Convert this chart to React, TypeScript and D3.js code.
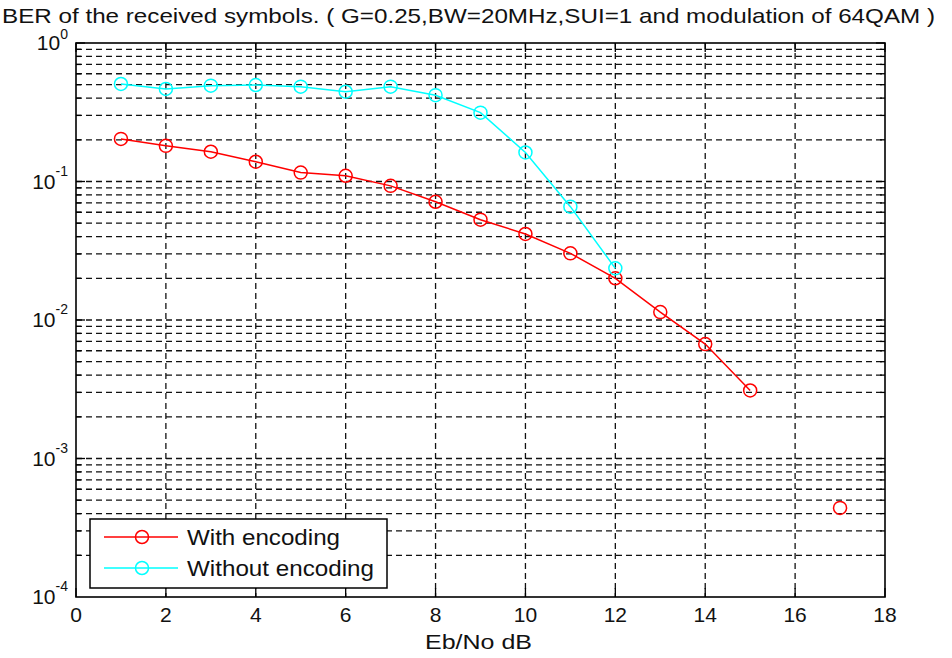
import { useEffect, useRef } from "react";
import * as d3 from "d3";

// Eb/No values (dB)
const ebnoWith = [1, 2, 3, 4, 5, 6, 7, 8, 9, 10, 11, 12, 13, 14, 15, 16, 17];
const berWith = [0.203, 0.181, 0.164, 0.139, 0.116, 0.11, 0.093, 0.0714, 0.053, 0.0418, 0.0303, 0.02, 0.0114, 0.0067, 0.0031, null, 0.00044];

const ebnoWithout = [1, 2, 3, 4, 5, 6, 7, 8, 9, 10, 11, 12];
const berWithout = [0.506, 0.466, 0.492, 0.497, 0.484, 0.445, 0.484, 0.42, 0.314, 0.162, 0.0658, 0.0236];

const xTicks = [0, 2, 4, 6, 8, 10, 12, 14, 16, 18];
const yExponents = [0, -1, -2, -3, -4];

const titleText = "BER of the received symbols. ( G=0.25,BW=20MHz,SUI=1 and modulation of 64QAM )";
const xLabel = "Eb/No dB";
const legendLabels = ["With encoding", "Without encoding"];

export default function App() {
    const svgRef = useRef<SVGSVGElement>(null);
    const width = 952;
    const height = 658;

    useEffect(() => {
        const svg = d3.select(svgRef.current);
        svg.selectAll("*").remove();

        const margin = { top: 43, right: 67, bottom: 61, left: 76 };
        const x = d3.scaleLinear().domain([0, 18]).range([margin.left, width - margin.right]);
        const y = d3.scaleLog().domain([1e-4, 1]).range([height - margin.bottom, margin.top]);
        const font = "'Liberation Sans', Arial, sans-serif";

        svg.append("rect").attr("width", width).attr("height", height).attr("fill", "white");

        const x0 = x(0), x1 = x(18), y0 = y(1e-4), y1 = y(1);

        // grid lines
        const grid = svg.append("g")
            .attr("stroke", "#111")
            .attr("stroke-width", 1.3)
            .attr("stroke-dasharray", "6,4");

        const yMinor: number[] = [];
        for (let e = -4; e < 0; e++) {
            for (let m = 1; m <= 9; m++) {
                const v = m * Math.pow(10, e);
                if (v > 1e-4) yMinor.push(v);
            }
        }
        grid.selectAll("line.h")
            .data(yMinor)
            .enter()
            .append("line")
            .attr("x1", x0).attr("x2", x1)
            .attr("y1", (d) => y(d)).attr("y2", (d) => y(d));

        grid.selectAll("line.v")
            .data(xTicks.slice(1, -1))
            .enter()
            .append("line")
            .attr("x1", (d) => x(d)).attr("x2", (d) => x(d))
            .attr("y1", y1).attr("y2", y0);

        // ticks
        const ticks = svg.append("g").attr("stroke", "#000").attr("stroke-width", 1.3);
        xTicks.forEach((t) => {
            ticks.append("line").attr("x1", x(t)).attr("x2", x(t)).attr("y1", y0).attr("y2", y0 - 9);
            ticks.append("line").attr("x1", x(t)).attr("x2", x(t)).attr("y1", y1).attr("y2", y1 + 9);
        });
        yMinor.concat([1]).forEach((v) => {
            const major = Math.abs(Math.log10(v) - Math.round(Math.log10(v))) < 1e-9;
            const len = major ? 9 : 5;
            ticks.append("line").attr("x1", x0).attr("x2", x0 + len).attr("y1", y(v)).attr("y2", y(v));
            ticks.append("line").attr("x1", x1).attr("x2", x1 - len).attr("y1", y(v)).attr("y2", y(v));
        });

        // frame
        svg.append("rect")
            .attr("x", x0).attr("y", y1)
            .attr("width", x1 - x0).attr("height", y0 - y1)
            .attr("fill", "none").attr("stroke", "#000").attr("stroke-width", 1.6);

        // series
        const series = [
            { xs: ebnoWith, ys: berWith, color: "#ff0000" },
            { xs: ebnoWithout, ys: berWithout, color: "#00ffff" },
        ];
        series.forEach((s) => {
            const pts = s.xs.map((v, i) => ({ x: v, y: s.ys[i] }));
            const line = d3.line<{ x: number; y: number | null }>()
                .defined((d) => d.y != null)
                .x((d) => x(d.x))
                .y((d) => y(d.y as number));
            svg.append("path")
                .datum(pts)
                .attr("d", line)
                .attr("fill", "none")
                .attr("stroke", s.color)
                .attr("stroke-width", 1.5);
            svg.append("g")
                .selectAll("circle")
                .data(pts.filter((d) => d.y != null))
                .enter()
                .append("circle")
                .attr("cx", (d) => x(d.x))
                .attr("cy", (d) => y(d.y as number))
                .attr("r", 6.5)
                .attr("fill", "none")
                .attr("stroke", s.color)
                .attr("stroke-width", 1.5);
        });

        // x tick labels
        svg.append("g")
            .selectAll("text")
            .data(xTicks)
            .enter()
            .append("text")
            .attr("x", (d) => x(d))
            .attr("y", y0 + 25)
            .attr("text-anchor", "middle")
            .style("font-family", font)
            .style("font-size", "21px")
            .attr("fill", "#111")
            .text((d) => d);

        // y tick labels 10^e
        yExponents.forEach((e) => {
            const t = svg.append("text")
                .attr("x", 68)
                .attr("y", y(Math.pow(10, e)) + 7)
                .attr("text-anchor", "end")
                .style("font-family", font)
                .attr("fill", "#111");
            t.append("tspan").style("font-size", "21px").text("10");
            t.append("tspan").style("font-size", "14px").attr("dy", e === 0 ? -11 : -13).text(String(e));
        });

        // title
        svg.append("text")
            .attr("x", 2)
            .attr("y", 23)
            .attr("textLength", 933)
            .attr("lengthAdjust", "spacingAndGlyphs")
            .style("font-family", font)
            .style("font-size", "21px")
            .attr("fill", "#111")
            .text(titleText);

        // x label
        svg.append("text")
            .attr("x", 425)
            .attr("y", 649)
            .attr("textLength", 107)
            .attr("lengthAdjust", "spacingAndGlyphs")
            .style("font-family", font)
            .style("font-size", "21px")
            .attr("fill", "#111")
            .text(xLabel);

        // legend
        const lg = svg.append("g");
        lg.append("rect")
            .attr("x", 90).attr("y", 519)
            .attr("width", 297).attr("height", 69)
            .attr("fill", "white").attr("stroke", "#000").attr("stroke-width", 1.5);
        const legendW = [153, 187];
        series.forEach((s, i) => {
            const ly = 537 + i * 31;
            lg.append("line").attr("x1", 104).attr("x2", 178).attr("y1", ly).attr("y2", ly)
                .attr("stroke", s.color).attr("stroke-width", 1.5);
            lg.append("circle").attr("cx", 142).attr("cy", ly).attr("r", 6.5)
                .attr("fill", "none").attr("stroke", s.color).attr("stroke-width", 1.5);
            lg.append("text")
                .attr("x", 187).attr("y", ly + 8)
                .attr("textLength", legendW[i])
                .attr("lengthAdjust", "spacingAndGlyphs")
                .style("font-family", font)
                .style("font-size", "22px")
                .attr("fill", "#111")
                .text(legendLabels[i]);
        });
    }, []);

    return (
        <svg
            ref={svgRef}
            width={width}
            height={height}
            style={{ position: "absolute", left: 0, top: 0 }}
        ></svg>
    );
}
